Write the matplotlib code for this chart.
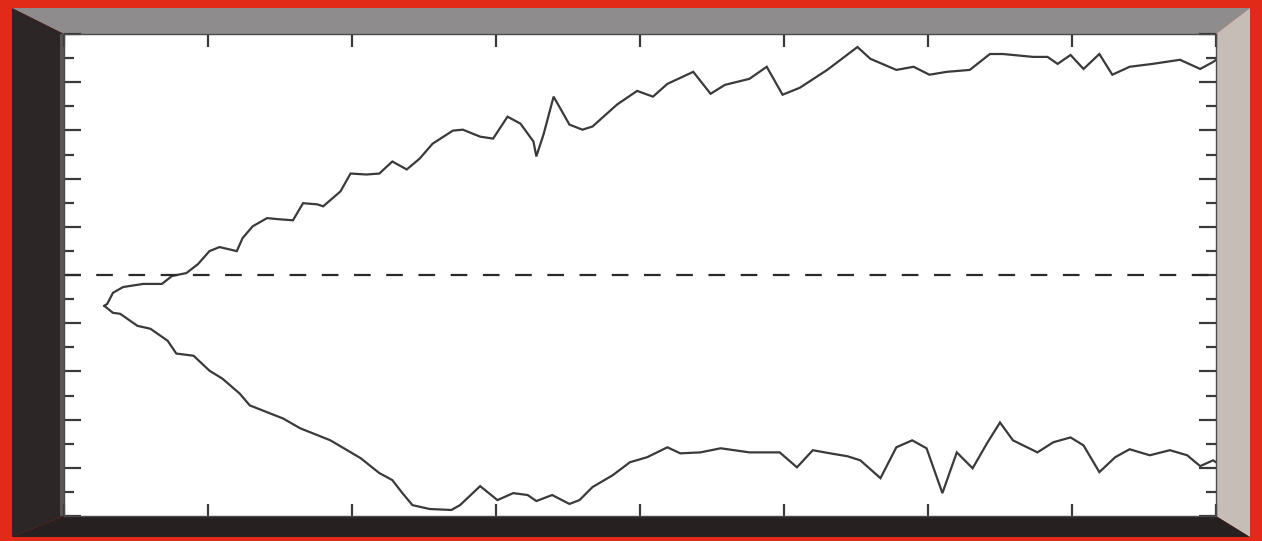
import matplotlib
matplotlib.use("Agg")
import matplotlib.pyplot as plt
from matplotlib.patches import Polygon
from matplotlib.ticker import MultipleLocator

# ---- data ----
upper_x = [0.28, 0.30, 0.34, 0.41, 0.55, 0.68, 0.75, 0.85, 0.93, 1.01, 1.08, 1.20, 1.24,
           1.31, 1.41, 1.50, 1.59, 1.66, 1.76, 1.80, 1.92, 1.99, 2.10, 2.19, 2.28, 2.38,
           2.47, 2.56, 2.70, 2.77, 2.89, 2.98, 3.08, 3.17, 3.26, 3.28, 3.33, 3.40, 3.44,
           3.51, 3.60, 3.67, 3.84, 3.98, 4.09, 4.19, 4.37, 4.49, 4.59, 4.76, 4.88, 4.99,
           5.11, 5.30, 5.51, 5.60, 5.78, 5.90, 6.01, 6.13, 6.29, 6.43, 6.52, 6.73, 6.83,
           6.90, 6.99, 7.08, 7.19, 7.28, 7.40, 7.56, 7.75, 7.89, 7.98, 8.00]
upper_y = [-1.28, -1.20, -0.74, -0.50, -0.37, -0.37, -0.04, 0.08, 0.45, 0.99, 1.16, 0.99, 1.53,
           2.02, 2.36, 2.31, 2.27, 2.98, 2.93, 2.85, 3.47, 4.21, 4.17, 4.21, 4.71, 4.38,
           4.83, 5.45, 5.99, 6.03, 5.74, 5.66, 6.57, 6.28, 5.54, 4.92, 5.83, 7.40, 6.98,
           6.24, 6.03, 6.16, 7.07, 7.64, 7.40, 7.93, 8.43, 7.52, 7.89, 8.14, 8.64, 7.48,
           7.77, 8.51, 9.46, 8.97, 8.51, 8.64, 8.31, 8.43, 8.51, 9.17, 9.17, 9.05, 9.05,
           8.76, 9.13, 8.55, 9.17, 8.31, 8.64, 8.76, 8.93, 8.55, 8.84, 8.93]

lower_x = [0.28, 0.34, 0.39, 0.51, 0.60, 0.72, 0.78, 0.90, 1.01, 1.10, 1.22, 1.29, 1.43,
           1.52, 1.64, 1.85, 2.06, 2.19, 2.28, 2.35, 2.42, 2.54, 2.69, 2.75, 2.89, 3.01,
           3.12, 3.22, 3.28, 3.39, 3.51, 3.58, 3.67, 3.81, 3.93, 4.05, 4.19, 4.28, 4.42,
           4.56, 4.76, 4.97, 5.09, 5.20, 5.32, 5.44, 5.53, 5.67, 5.78, 5.89, 5.99, 6.10,
           6.20, 6.31, 6.41, 6.50, 6.59, 6.76, 6.87, 6.99, 7.08, 7.19, 7.30, 7.40, 7.54,
           7.68, 7.80, 7.89, 7.98, 8.00]
lower_y = [-1.28, -1.57, -1.61, -2.11, -2.23, -2.73, -3.26, -3.35, -3.97, -4.30, -4.92, -5.41, -5.74,
           -5.95, -6.36, -6.86, -7.60, -8.22, -8.51, -9.05, -9.55, -9.71, -9.75, -9.55, -8.76, -9.34,
           -9.05, -9.13, -9.38, -9.13, -9.50, -9.34, -8.80, -8.31, -7.77, -7.56, -7.15, -7.40, -7.36,
           -7.19, -7.36, -7.36, -7.98, -7.27, -7.40, -7.52, -7.69, -8.43, -7.15, -6.86, -7.19, -9.05,
           -7.36, -8.02, -6.98, -6.12, -6.86, -7.36, -6.94, -6.74, -7.07, -8.18, -7.56, -7.23, -7.48,
           -7.27, -7.48, -7.93, -7.69, -7.77]

reference_level = 0.0

W, H = 1262, 541
fig = plt.figure(figsize=(W / 100, H / 100), dpi=100)
fig.patch.set_facecolor('#e22a18')

# ---- bevelled frame (decoration) ----
bg = fig.add_axes([0, 0, 1, 1])
bg.set_xlim(0, W)
bg.set_ylim(H, 0)
bg.axis('off')
L, T, R, B = 12, 8, 1250, 537
il, it, ir, ib = 64, 34, 1216, 516
bg.add_patch(Polygon([(L, T), (R, T), (ir, it), (il, it)], closed=True, fc='#8e8c8c', ec='none'))
bg.add_patch(Polygon([(L, T), (il, it), (il, ib), (L, B)], closed=True, fc='#2c2626', ec='none'))
bg.add_patch(Polygon([(R, T), (R, B), (ir, ib), (ir, it)], closed=True, fc='#c6beb6', ec='none'))
bg.add_patch(Polygon([(L, B), (R, B), (ir, ib), (il, ib)], closed=True, fc='#262020', ec='none'))
bg.add_patch(Polygon([(il - 4, it), (il, it), (il, ib), (il - 4, ib)], closed=True, fc='#5a5656', ec='none'))

# ---- plot area ----
ax = fig.add_axes([il / W, 1 - ib / H, (ir - il) / W, (ib - it) / H])
ax.set_facecolor('white')
ax.set_xlim(0, 8)
ax.set_ylim(-10, 10)

ax.plot(upper_x, upper_y, color='#3a3a3a', lw=1.6, solid_joinstyle='miter')
ax.plot(lower_x, lower_y, color='#3a3a3a', lw=1.6, solid_joinstyle='miter')
ax.axhline(reference_level, color='#2a2a2a', lw=1.6, linestyle=(0, (7.5, 7.0)))

ax.xaxis.set_major_locator(MultipleLocator(1))
ax.yaxis.set_major_locator(MultipleLocator(2))
ax.yaxis.set_minor_locator(MultipleLocator(1))
ax.tick_params(axis='both', which='both', direction='in', top=True, right=True,
               labelbottom=False, labelleft=False, color='#3a3a3a', width=1.6)
ax.tick_params(axis='x', which='major', length=9)
ax.tick_params(axis='y', which='major', length=12)
ax.tick_params(axis='y', which='minor', length=7)
for s in ax.spines.values():
    s.set_color('#4a4a4a')
    s.set_linewidth(1.0)

fig.savefig('out.png', dpi=100, facecolor=fig.get_facecolor())
